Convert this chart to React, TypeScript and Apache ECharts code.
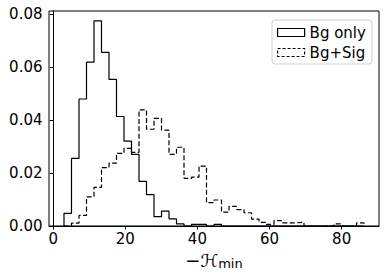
import React, { useEffect, useRef } from "react";
import * as echarts from "echarts";

// Histogram bins (shared by both series)
const BIN_START = 3.0;
const BIN_WIDTH = 2.08;
const BIN_COUNT = 40;

// Normalised bin heights
const bgOnly = [
  0.0048, 0.0255, 0.0479, 0.0618, 0.0774, 0.0655, 0.0553, 0.0413, 0.032, 0.027,
  0.0168, 0.0118, 0.0035, 0.0056, 0.0027, 0.0008, 0, 0.0006, 0.0006, 0,
  0.0006, 0, 0, 0, 0, 0, 0, 0, 0, 0,
  0, 0, 0, 0, 0, 0, 0, 0, 0, 0,
];
const bgSig = [
  0, 0.0011, 0.004, 0.011, 0.0146, 0.022, 0.0237, 0.0274, 0.0293, 0.0278,
  0.0438, 0.0365, 0.0406, 0.0362, 0.027, 0.0297, 0.018, 0.0184, 0.0226, 0.0088,
  0.0098, 0.0052, 0.0074, 0.0062, 0.005, 0.0026, 0.0014, 0.0006, 0.002, 0.0012,
  0.0012, 0.0014, 0, 0, 0, 0, 0.0008, 0, 0, 0.0012,
];

const seriesNames = ["Bg only", "Bg+Sig"];
const xTicks = [0, 20, 40, 60, 80];
const yTicks = [0, 0.02, 0.04, 0.06, 0.08];

const edges: number[] = [];
for (let i = 0; i <= BIN_COUNT; i++) edges.push(+(BIN_START + i * BIN_WIDTH).toFixed(4));

function stepPoints(vals: number[]): number[][] {
  const pts: number[][] = [[edges[0], 0]];
  vals.forEach((v, i) => {
    pts.push([edges[i], v]);
    pts.push([edges[i + 1], v]);
  });
  pts.push([edges[vals.length], 0]);
  return pts;
}

const FONT = "DejaVu Sans";

export default function App() {
  const ref = useRef<HTMLDivElement>(null);
  useEffect(() => {
    if (!ref.current) return;
    const chart = echarts.init(ref.current, undefined, { renderer: "svg" });
    chart.setOption({
      animation: false,
      backgroundColor: "#fff",
      grid: {
        left: 49,
        right: 7,
        top: 11,
        bottom: 48,
        containLabel: false,
        outerBoundsMode: "none",
        show: true,
        borderColor: "#000",
        borderWidth: 1,
        backgroundColor: "transparent",
      },
      legend: {
        orient: "vertical",
        left: 272,
        top: 20,
        padding: [5, 6, 4, 5],
        itemGap: 5,
        itemWidth: 27,
        itemHeight: 8,
        backgroundColor: "#fff",
        borderColor: "#d0d0d0",
        borderWidth: 1,
        borderRadius: 3,
        textStyle: { fontFamily: FONT, fontSize: 15, color: "#000" },
        data: [
          {
            name: seriesNames[0],
            icon: "rect",
            itemStyle: { color: "transparent", borderColor: "#000", borderWidth: 1.2 },
          },
          {
            name: seriesNames[1],
            icon: "rect",
            itemStyle: {
              color: "transparent",
              borderColor: "#000",
              borderWidth: 1.2,
              borderType: [3, 2],
            },
          },
        ],
      },
      xAxis: {
        type: "value",
        min: -1.16,
        max: 90.36,
        splitLine: { show: false },
        axisLine: { onZero: false, lineStyle: { color: "#000", width: 1 } },
        axisTick: { length: 3.5, lineStyle: { color: "#000" }, customValues: xTicks },
        axisLabel: {
          customValues: xTicks,
          fontFamily: FONT,
          fontSize: 15,
          color: "#000",
          margin: 5,
        },
        name: "{a|−ℋ}{b|min}",
        nameLocation: "middle",
        nameGap: 23,
        nameTextStyle: {
          rich: {
            a: { fontFamily: FONT, fontSize: 18, color: "#000", lineHeight: 20 },
            b: { fontFamily: FONT, fontSize: 13, color: "#000", padding: [6, 0, 0, 0], lineHeight: 20 },
          },
        },
      },
      yAxis: {
        type: "value",
        min: 0,
        max: 0.0811,
        splitLine: { show: false },
        axisLine: { show: true, lineStyle: { color: "#000", width: 1 } },
        axisTick: { show: true, length: 3.5, lineStyle: { color: "#000" }, customValues: yTicks },
        axisLabel: {
          customValues: yTicks,
          formatter: (v: number) => v.toFixed(2),
          fontFamily: FONT,
          fontSize: 15,
          color: "#000",
          margin: 6.5,
        },
      },
      series: [
        {
          name: seriesNames[0],
          type: "line",
          data: stepPoints(bgOnly),
          showSymbol: false,
          symbol: "none",
          lineStyle: { color: "#000", width: 1.2, type: "solid" },
          itemStyle: { color: "#000" },
          z: 3,
        },
        {
          name: seriesNames[1],
          type: "line",
          data: stepPoints(bgSig),
          showSymbol: false,
          symbol: "none",
          lineStyle: { color: "#000", width: 1.2, type: [5, 2.4] },
          itemStyle: { color: "#000" },
          z: 4,
        },
      ],
    });
    return () => chart.dispose();
  }, []);
  return (
    <div
      ref={ref}
      style={{ position: "fixed", left: 0, top: 0, width: 386, height: 274, background: "#fff" }}
    />
  );
}
